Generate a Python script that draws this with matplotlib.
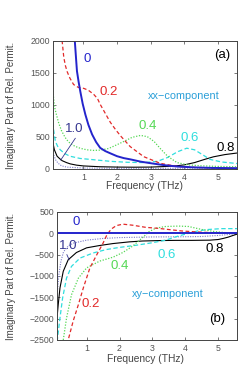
import matplotlib
matplotlib.use("Agg")
import matplotlib.pyplot as plt

plt.rcParams['font.family'] = ['Liberation Sans', 'DejaVu Sans']

# ---------------- data: xx-component (panel a) ----------------
xx0_f = [0.70, 0.74, 0.78, 0.81, 0.86, 0.91, 0.98, 1.06, 1.15, 1.26, 1.38, 1.5, 1.65, 1.8, 2.0, 2.2, 2.4, 2.7, 3.0, 3.4, 3.8, 4.3, 4.8, 5.57]
xx0_v = [2400, 2050, 1750, 1530, 1360, 1210, 1020, 850, 690, 540, 420, 330, 280, 245, 200, 170, 150, 115, 90, 60, 38, 25, 17, 12]

xx02_f = [0.33, 0.37, 0.42, 0.47, 0.52, 0.6, 0.71, 0.85, 1.01, 1.15, 1.31, 1.42, 1.5, 1.65, 1.8, 1.95, 2.1, 2.39, 2.79, 3.28, 3.78, 4.3, 5.0, 5.57]
xx02_v = [2300, 2000, 1740, 1610, 1520, 1420, 1320, 1275, 1260, 1230, 1165, 1100, 1010, 870, 730, 620, 520, 350, 193, 89, 40, 25, 15, 10]

xx04_f = [0.08, 0.1, 0.14, 0.2, 0.27, 0.35, 0.42, 0.5, 0.61, 0.75, 0.91, 1.1, 1.31, 1.5, 1.75, 2.0, 2.2, 2.45, 2.7, 2.9, 3.1, 3.3, 3.5, 3.78, 4.1, 4.5, 5.0, 5.57]
xx04_v = [1400, 1200, 980, 850, 714, 600, 530, 460, 400, 355, 323, 300, 290, 295, 320, 380, 430, 495, 525, 505, 430, 310, 200, 100, 65, 50, 40, 35]

xx06_f = [0.08, 0.12, 0.17, 0.25, 0.32, 0.45, 0.6, 0.9, 1.3, 1.8, 2.3, 2.8, 3.2, 3.5, 3.8, 4.07, 4.3, 4.55, 4.76, 5.1, 5.57]
xx06_v = [830, 600, 430, 340, 297, 240, 200, 165, 145, 120, 105, 100, 120, 180, 270, 325, 300, 220, 150, 110, 85]

xx08_f = [0.08, 0.1, 0.14, 0.22, 0.3, 0.37, 0.5, 0.61, 0.8, 1.0, 1.5, 2.0, 2.5, 3.0, 3.5, 3.8, 4.0, 4.3, 4.6, 4.86, 5.2, 5.57]
xx08_v = [450, 400, 300, 200, 160, 130, 100, 80, 60, 48, 35, 30, 28, 30, 40, 52, 65, 100, 150, 190, 225, 250]

xx10_f = [0.08, 0.12, 0.18, 0.25, 0.35, 0.5, 1.0, 2.0, 3.0, 4.0, 5.0, 5.57]
xx10_v = [330, 220, 140, 90, 50, 30, 15, 10, 10, 12, 15, 18]

# ---------------- data: xy-component (panel b) ----------------
xy0_f = [0.08, 5.57]
xy0_v = [0, 0]

xy02_f = [0.42, 0.44, 0.59, 0.75, 0.9, 1.1, 1.31, 1.5, 1.62, 1.75, 1.9, 2.1, 2.4, 2.8, 3.2, 3.6, 3.9, 4.3, 4.8, 5.57]
xy02_v = [-2600, -2500, -2060, -1670, -1280, -810, -500, -230, -30, 100, 180, 215, 190, 140, 115, 80, 55, 35, 15, 5]

xy04_f = [0.27, 0.29, 0.39, 0.54, 0.75, 1.0, 1.4, 1.8, 2.1, 2.4, 2.7, 2.9, 3.1, 3.4, 3.8, 4.1, 4.5, 4.9, 5.3, 5.57]
xy04_v = [-2700, -2500, -1985, -1440, -1050, -810, -650, -560, -450, -300, -100, 40, 120, 160, 170, 160, 90, 40, 10, 0]

xy06_f = [0.1, 0.11, 0.19, 0.27, 0.39, 0.54, 0.8, 1.2, 1.6, 2.0, 2.5, 3.0, 3.4, 3.8, 4.1, 4.4, 4.7, 5.1, 5.57]
xy06_v = [-2700, -2500, -1985, -1517, -1048, -775, -580, -460, -380, -330, -280, -220, -160, -60, 0, 60, 90, 110, 110]

xy08_f = [0.06, 0.07, 0.08, 0.14, 0.19, 0.29, 0.44, 0.69, 1.0, 1.4, 1.8, 2.3, 2.7, 3.2, 3.7, 4.2, 4.75, 5.0, 5.15, 5.3, 5.45, 5.57]
xy08_v = [-2800, -2500, -2150, -1650, -1280, -890, -620, -450, -340, -285, -240, -200, -180, -170, -165, -165, -160, -145, -120, -90, -50, -20]

xy10_f = [0.07, 0.1, 0.15, 0.22, 0.3, 0.45, 0.6, 1.0, 1.5, 2.0, 3.0, 4.0, 4.5, 5.0, 5.57]
xy10_v = [-2000, -1500, -1000, -650, -430, -290, -230, -160, -120, -100, -85, -80, -75, -50, -10]

x_ticks = [1, 2, 3, 4, 5]
ya_ticks = [0, 500, 1000, 1500, 2000]
yb_ticks = [-2500, -2000, -1500, -1000, -500, 0, 500]

C_BLUE = '#2424cc'
C_RED = '#e22a2a'
C_GREEN = '#55d855'
C_CYAN = '#2fdede'
C_NAVY = '#7a7ac8'
C_NAVY_TXT = '#353590'
C_COMP = '#2a9fd8'
TICK_C = '#555555'

fig = plt.figure(figsize=(2.53, 3.65), dpi=100)
axa = fig.add_axes([0.2083, 0.537, 0.7296, 0.3507])
axb = fig.add_axes([0.224, 0.0685, 0.7126, 0.3507])


def style(ax):
    ax.set_xlim(0.09, 5.57)
    ax.set_xticks(x_ticks)
    ax.tick_params(direction='in', top=True, right=True, length=2.2, width=0.5,
                   labelsize=6.3, labelcolor=TICK_C, color='#444444')
    ax.tick_params(axis='x', pad=3.2)
    ax.tick_params(axis='y', pad=2.0)
    for s in ax.spines.values():
        s.set_color('#444444')
        s.set_linewidth(0.7)
    ax.set_xlabel('Frequency (THz)', fontsize=7.4, color='#444444')
    ax.set_ylabel('Imaginary Part of Rel. Permit.', fontsize=7.0, color='#444444')


def draw(ax, data):
    (f0, v0), (f2, v2), (f4, v4), (f6, v6), (f8, v8), (f10, v10) = data
    ax.plot(f10, v10, color=C_NAVY, lw=0.8, ls=(0, (1, 1.2)))
    ax.plot(f8, v8, color='black', lw=0.8)
    ax.plot(f6, v6, color=C_CYAN, lw=0.9, ls=(0, (3.5, 2)))
    ax.plot(f4, v4, color=C_GREEN, lw=0.9, ls=(0, (1, 1.3)))
    ax.plot(f2, v2, color=C_RED, lw=0.9, ls=(0, (3, 2)))
    ax.plot(f0, v0, color=C_BLUE, lw=1.4)


# ---- panel (a)
draw(axa, [(xx0_f, xx0_v), (xx02_f, xx02_v), (xx04_f, xx04_v),
           (xx06_f, xx06_v), (xx08_f, xx08_v), (xx10_f, xx10_v)])
style(axa)
axa.set_ylim(0, 2000)
axa.set_yticks(ya_ticks)
axa.xaxis.set_label_coords(0.497, -0.094)
axa.yaxis.set_label_coords(-0.201, 0.5)
tk = dict(ha='center', va='center', fontsize=9.5)
axa.text(1.10, 1720, '0', color=C_BLUE, **tk)
axa.text(1.74, 1203, '0.2', color=C_RED, **tk)
axa.text(2.91, 672, '0.4', color=C_GREEN, **tk)
axa.text(4.16, 477, '0.6', color=C_CYAN, **tk)
axa.text(5.22, 333, '0.8', color='black', **tk)
axa.text(0.72, 620, '1.0', color=C_NAVY_TXT, **tk)
axa.plot([0.76, 0.33], [479, 141], color=C_NAVY_TXT, lw=0.6)
axa.text(5.12, 1781, '(a)', color='black', **tk)
axa.text(3.97, 1133, 'xx\u2212component', color=C_COMP, ha='center', va='center', fontsize=7.8)

# ---- panel (b)
draw(axb, [(xy0_f, xy0_v), (xy02_f, xy02_v), (xy04_f, xy04_v),
           (xy06_f, xy06_v), (xy08_f, xy08_v), (xy10_f, xy10_v)])
style(axb)
axb.set_ylim(-2500, 500)
axb.set_yticks(yb_ticks)
axb.xaxis.set_label_coords(0.49, -0.109)
axb.yaxis.set_label_coords(-0.228, 0.5)
axb.text(0.68, 260, '0', color=C_BLUE, **tk)
axb.text(1.11, -1657, '0.2', color=C_RED, **tk)
axb.text(2.0, -771, '0.4', color=C_GREEN, **tk)
axb.text(3.44, -516, '0.6', color=C_CYAN, **tk)
axb.text(4.9, -367, '0.8', color='black', **tk)
axb.text(0.43, -300, '1.0', color=C_NAVY_TXT, **tk)
axb.plot([0.4, 0.47], [-500, -620], color=C_NAVY_TXT, lw=0.6)
axb.text(4.98, -2016, '(b)', color='black', **tk)
axb.text(3.46, -1430, 'xy\u2212component', color=C_COMP, ha='center', va='center', fontsize=7.8)

fig.savefig('out.png', dpi=100)
